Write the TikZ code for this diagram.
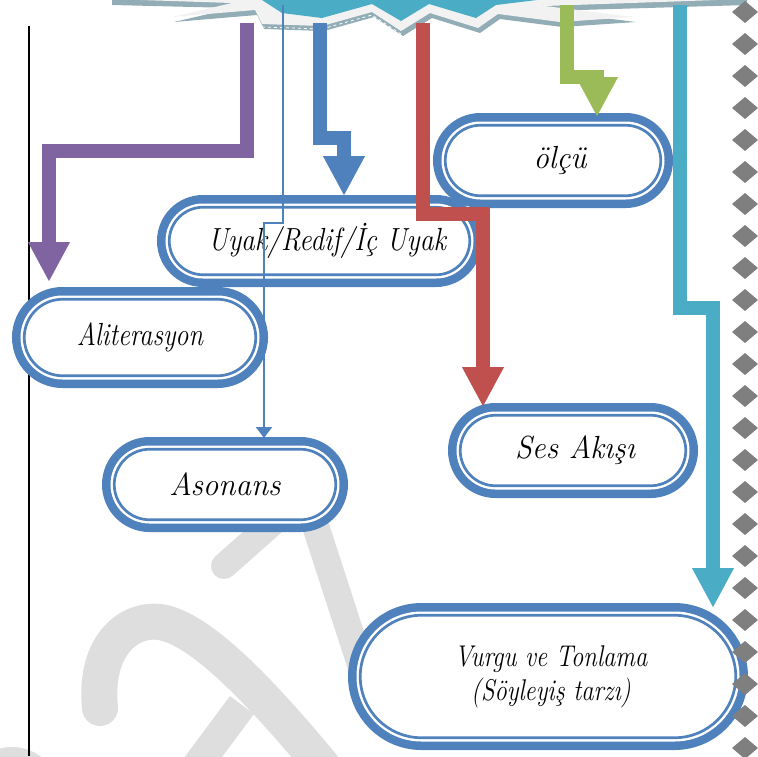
\documentclass[tikz,border=0pt]{standalone}
\usepackage{fontspec}
\usetikzlibrary{arrows.meta,shapes.misc}
\definecolor{ringblue}{HTML}{4F81BD}
\definecolor{cpurple}{HTML}{8064A2}
\definecolor{cred}{HTML}{C0504D}
\definecolor{cgreen}{HTML}{9BBB59}
\definecolor{cteal}{HTML}{4BACC6}
\definecolor{diamgray}{HTML}{7F7F7F}
\definecolor{wmgray}{HTML}{DEDEDE}
\definecolor{burstlight}{HTML}{F2F2F2}
\definecolor{burstshadow}{HTML}{93ADB6}
\newcommand\corsiv[2][0.82]{\scalebox{#1}[1]{#2}}
\begin{document}
\begin{tikzpicture}[x=1pt,y=-1pt,
  pill/.style={rounded rectangle, fill=white, draw=white, line width=7.5pt,
    preaction={draw=ringblue, line width=24.5pt},
    postaction={draw=ringblue, line width=2.7pt},
    outer sep=12.25pt, inner sep=0pt, align=center,
    font=\fontsize{32}{34}\selectfont\itshape},
  bigarrow/.style={line width=14pt, line join=miter, line cap=butt,
    -{Triangle[width=39pt,length=40pt]}},
  thinarrow/.style={ringblue, line width=2pt, line join=miter,
    -{Triangle[width=16pt,length=11pt]}},
  wm/.style={draw=wmgray},
]
\useasboundingbox (0,0) rectangle (758,756);
\clip (0,0) rectangle (758,756);

% watermark
\draw[wm, line width=27pt] (312,515) -- (372,700);
\draw[wm, line width=26pt, line cap=round] (276,520) -- (224,566);
\draw[wm, line width=36pt, line cap=round] (100,708) .. controls (94,650) and (125,618) .. (160,622) .. controls (200,628) and (260,690) .. (330,775);
\draw[wm, line width=30pt] (190,775) -- (242,705);
\fill[wmgray] (12,795) circle[radius=48];

% left rule
\draw[line width=2pt] (29,26) -- (29,756);

% burst at the top
\coordinate (burst) at (400,0);
\fill[burstshadow, shift={(2,5)}] (110,0) -- (232,3) -- (172,17) -- (255,10) -- (262,24) -- (322,26) -- (372,12) -- (401,31) -- (430,13) -- (478,28) -- (498,14) -- (560,22) -- (634,17) -- (545,6) -- (745,0) -- (745,-30) -- (110,-30) -- cycle;
\fill[burstlight] (110,-1) -- (232,3) -- (172,17) -- (255,10) -- (262,24) -- (322,26) -- (372,12) -- (401,31) -- (430,13) -- (478,28) -- (498,14) -- (560,22) -- (634,17) -- (545,6) -- (745,-1) -- (745,-30) -- (110,-30) -- cycle;
\draw[white, line width=0.8pt, dashed] (262,27) -- (322,29) -- (372,15) -- (401,34);
\fill[cteal] (262,0) -- (282,13) -- (322,18) -- (372,4) -- (401,21) -- (429,4) -- (476,18) -- (496,5) -- (537,0) -- (537,-20) -- (262,-20) -- cycle;

% nodes
\node[pill, minimum width=215.5pt, minimum height=70.5pt] (olcu) at (553,160.5) {\hspace*{14pt}\corsiv[0.96]{ölçü}};
\node[pill, minimum width=300.5pt, minimum height=67.5pt] (uyak) at (319.5,241) {\hspace*{15pt}\corsiv[0.86]{Uyak/Redif/İç Uyak}};
\node[pill, minimum width=231.5pt, minimum height=76.5pt] (aliter) at (140,337.5) {\corsiv{Aliterasyon}};
\node[pill, minimum width=221.5pt, minimum height=70.5pt] (ason) at (225,484.5) {\corsiv[0.97]{Asonans}};
\node[pill, minimum width=225.5pt, minimum height=70.5pt] (ses) at (573,450.5) {\hspace*{4pt}\corsiv[0.96]{Ses Akışı}};
\node[pill, minimum width=375.5pt, minimum height=122.5pt,
  font=\fontsize{30}{34}\selectfont\itshape] (vurgu) at (548,676.5) {\hspace*{6pt}\corsiv{Vurgu ve Tonlama}\\\hspace*{6pt}\corsiv{(Söyleyiş tarzı)}};

% sources of connectors
\coordinate (srcP) at (247,23);
\coordinate (srcB) at (320,23);
\coordinate (srcR) at (423,23);
\coordinate (srcG) at (567,5);
\coordinate (srcT) at (680,5);
\coordinate (srcA) at (283,5);

% connectors
\draw[bigarrow, cpurple] (srcP) -- (247,151) -| ([xshift=-91pt,yshift=5pt]aliter.north);
\draw[bigarrow, ringblue] (srcB) -- (320,138) -| ([xshift=24.5pt,yshift=-1pt]uyak.north);
\draw[bigarrow, cred] (srcR) -- (423,214) -| ([xshift=-90pt,yshift=-4pt]ses.north);
\draw[bigarrow, cgreen] (srcG) -- (567,77) -| ([xshift=44pt,yshift=-4pt]olcu.north);
\draw[bigarrow, cteal] (srcT) -- (680,308) -| ([xshift=165pt,yshift=-5pt]vurgu.north);
\draw[thinarrow] (srcA) -- (283,223) -| ([xshift=39pt,yshift=-1pt]ason.north);

% diamond border
\foreach \i in {0,...,23} {
  \fill[diamgray] (732,12+32*\i) -- (745,1+32*\i) -- (758,12+32*\i) -- (745,23+32*\i) -- cycle;
}
\end{tikzpicture}
\end{document}
